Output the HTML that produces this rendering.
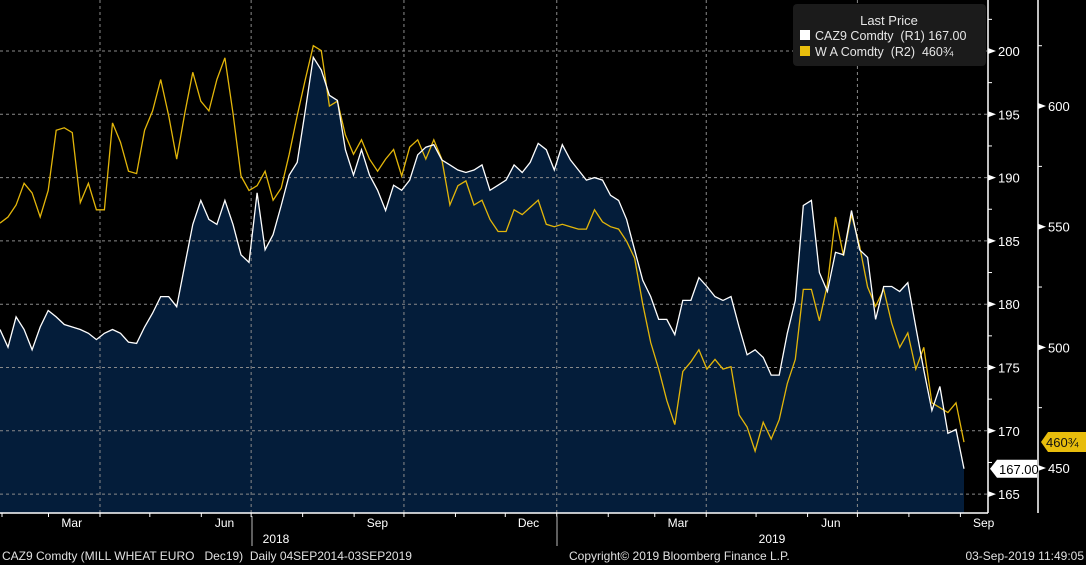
<!DOCTYPE html>
<html><head><meta charset="utf-8">
<style>
html,body{margin:0;padding:0;background:#000;}
svg{display:block;font-family:"Liberation Sans",sans-serif;}
</style></head>
<body>
<svg id="chart" width="1086" height="565" viewBox="0 0 1086 565" xmlns="http://www.w3.org/2000/svg">
<rect x="0" y="0" width="1086" height="565" fill="#000"/>
<g id="plot"></g>
<g id="axes"></g>
<g>
  <rect x="793" y="4" width="193" height="62" rx="4" fill="#1b1b1b"/>
  <text x="889" y="25" fill="#e6e6e6" font-size="13" text-anchor="middle">Last Price</text>
  <rect x="800" y="30" width="10" height="10" fill="#fff"/>
  <text x="815" y="40" fill="#e6e6e6" font-size="12.5" xml:space="preserve">CAZ9 Comdty  (R1) 167.00</text>
  <rect x="800" y="46" width="10" height="10" fill="#e8bd0c"/>
  <text x="815" y="56" fill="#e6e6e6" font-size="12.5" xml:space="preserve">W A Comdty  (R2)  460¾</text>
</g>
<text x="2" y="560" fill="#e0e0e0" font-size="12" xml:space="preserve">CAZ9 Comdty (MILL WHEAT EURO   Dec19)  Daily 04SEP2014-03SEP2019</text>
<text x="569" y="560" fill="#e0e0e0" font-size="12">Copyright© 2019 Bloomberg Finance L.P.</text>
<text x="1084" y="560" fill="#e0e0e0" font-size="12" text-anchor="end">03-Sep-2019 11:49:05</text>
</svg>
<script>
const cazValues = [178.0,176.6,179.0,178.0,176.4,178.2,179.5,179.0,178.4,178.2,178.0,177.7,177.2,177.7,178.0,177.7,177.0,176.9,178.2,179.3,180.6,180.6,179.8,183.1,186.3,188.2,186.7,186.3,188.2,186.3,183.9,183.3,188.8,184.3,185.5,187.8,190.2,191.2,195.3,199.5,198.5,196.5,196.1,192.2,190.2,192.2,190.2,189.0,187.4,189.4,189.0,189.8,191.8,192.4,192.6,191.4,191.0,190.6,190.4,190.6,191.0,189.0,189.4,189.8,191.0,190.4,191.2,192.7,192.2,190.6,192.6,191.4,190.6,189.8,190.0,189.8,188.6,188.2,186.7,184.3,181.9,180.6,178.8,178.8,177.6,180.3,180.3,182.1,181.4,180.6,180.3,180.6,178.2,176.0,176.4,175.8,174.4,174.4,177.7,180.3,187.8,188.2,182.5,181.0,184.1,183.9,187.4,184.3,183.7,178.8,181.4,181.4,181.0,181.7,178.2,174.8,171.6,173.5,169.8,170.1,167.0];
const wheatValues = [551.5,554,559,568,564,554,565,590,591,589,560,568,557,557,593,585,573,572,590,598,611,596,578,597,614,602,598,611,620,597,571,565,567,573,561,566,580,596,611,625,623,600,602,588,580,586,578,573,578,582,571,583,586,578,586,578,559,567,569,559,561,553,548,548,557,555,558,561,551,550,551,550,549,549,557,552,550,549,544,537,518,502,491,478,468,490,494,499,491,495,491,492,472,467,457,469,462,470,485,495,524,524,511,526,554,538,555,542,525,517,524,510,500,506,491,500,477,475,473,477,460.75];
const r1Ticks = [165,170,175,180,185,190,195,200];
const r2Ticks = [450,500,550,600];
const monthLabels = ["Mar","Jun","Sep","Dec","Mar","Jun","Sep"];
const monthLabelDays = [73,165,257,348,438,530,622];
const yearLabels = ["2018","2019"];
const lastCaz = "167.00";
const lastWheat = "460¾";

const NS="http://www.w3.org/2000/svg";
const plot=document.getElementById('plot'), axes=document.getElementById('axes');
const X0=0, X1=964, PB=513, AX=988, AX2=1038;
function xIdx(i,n){return X0+(X1-X0)*i/(n-1);}
function xDay(d){return -49.5+d*1.661;}
function yR1(v){return 51+(200-v)*12.66;}
function yR2(v){return 468-(v-450)*2.413;}
function mk(tag,attrs,parent){const e=document.createElementNS(NS,tag);for(const k in attrs)e.setAttribute(k,attrs[k]);parent.appendChild(e);return e;}

// area fill
let n=cazValues.length;
let pts=cazValues.map((v,i)=>xIdx(i,n).toFixed(1)+','+yR1(v).toFixed(1));
const area=mk('path',{d:'M'+X0+','+PB+' L'+pts.join(' L')+' L'+X1+','+PB+' Z',fill:'#041d3a'},plot);



// gridlines
r1Ticks.forEach(t=>{
  const g=mk('line',{x1:0,x2:AX,y1:yR1(t),y2:yR1(t),stroke:'#8a8a8a','stroke-width':1,'stroke-dasharray':'3,3'},plot);
  
  
});
[90,181,273,365,455,546].forEach(d=>{
  const g=mk('line',{x1:xDay(d),x2:xDay(d),y1:0,y2:PB,stroke:'#8a8a8a','stroke-width':1,'stroke-dasharray':'3,3'},plot);
  
  
});

// lines
const wl=mk('polyline',{points:wheatValues.map((v,i)=>xIdx(i,wheatValues.length).toFixed(1)+','+yR2(v).toFixed(1)).join(' '),fill:'none',stroke:'#e3b60a','stroke-width':1.3},plot);


const cl=mk('polyline',{points:pts.join(' '),fill:'none',stroke:'#fff','stroke-width':1.3},plot);



// bottom axis
const bl=mk('line',{x1:0,x2:AX,y1:PB,y2:PB,stroke:'#fff','stroke-width':1.5},axes);


[31,59,90,120,151,181,212,243,273,304,334,365,396,424,455,485,516,546,577,608].forEach(d=>{
  const t=mk('line',{x1:xDay(d),x2:xDay(d),y1:PB,y2:PB+4,stroke:'#fff'},axes);
  
  
});
monthLabels.forEach((m,i)=>{
  const t=mk('text',{x:xDay(monthLabelDays[i]),y:527,fill:'#fff','font-size':12,'text-anchor':'middle'},axes);
  t.textContent=m;
  
  
});
[[252,0],[557,1]].forEach(([x,i])=>{
  const s=mk('line',{x1:x,x2:x,y1:516,y2:546,stroke:'#bbb'},axes);
  
  
});
[[276,0],[772,1]].forEach(([x,i])=>{
  const t=mk('text',{x:x,y:543,fill:'#fff','font-size':12,'text-anchor':'middle'},axes);
  t.textContent=yearLabels[i];
  
  
});

// right axes
[AX,AX2].forEach((x,i)=>{
  const l=mk('line',{x1:x,x2:x,y1:0,y2:PB,stroke:'#fff','stroke-width':1.5},axes);
  
  
});
for(let v=162.5;v<=202.5;v+=5){const y=yR1(v);if(y<0||y>PB)continue;
  const t=mk('line',{x1:AX,x2:AX+4,y1:y,y2:y,stroke:'#fff'},axes);
  
  }
for(let v=425;v<=625;v+=50){const y=yR2(v);if(y<0||y>PB)continue;
  const t=mk('line',{x1:AX2,x2:AX2+4,y1:y,y2:y,stroke:'#fff'},axes);
  
  }
r1Ticks.forEach(v=>{const y=yR1(v);
  const a=mk('path',{d:`M${AX},${y-3} L${AX+8},${y} L${AX},${y+3} Z`,fill:'#fff'},axes);
  
  
  const t=mk('text',{x:AX+10,y:y+5,fill:'#fff','font-size':13},axes);
  t.textContent=v;
  
  });
r2Ticks.forEach(v=>{const y=yR2(v);
  const a=mk('path',{d:`M${AX2},${y-3} L${AX2+8},${y} L${AX2},${y+3} Z`,fill:'#fff'},axes);
  
  
  const t=mk('text',{x:AX2+10,y:y+5,fill:'#fff','font-size':13},axes);
  t.textContent=v;
  
  });

// last-value callouts
(function(){
  const y=yR1(cazValues[cazValues.length-1]);
  const b=mk('path',{d:`M${AX+2},${y} L${AX+9},${y-9} L${AX2-1},${y-9} L${AX2-1},${y+9} L${AX+9},${y+9} Z`,fill:'#fff'},axes);
  
  
  const t=mk('text',{x:AX+11,y:y+5,fill:'#000','font-size':13},axes);
  t.textContent=lastCaz;
  
  
  const y2=yR2(wheatValues[wheatValues.length-1]);
  const b2=mk('path',{d:`M${AX2+3},${y2} L${AX2+10},${y2-10} L1086,${y2-10} L1086,${y2+10} L${AX2+10},${y2+10} Z`,fill:'#e8bd0c'},axes);
  
  
  const t2=mk('text',{x:AX2+8,y:y2+5,fill:'#111','font-size':13},axes);
  t2.textContent=lastWheat;
  
  
})();
</script>
</body></html>
